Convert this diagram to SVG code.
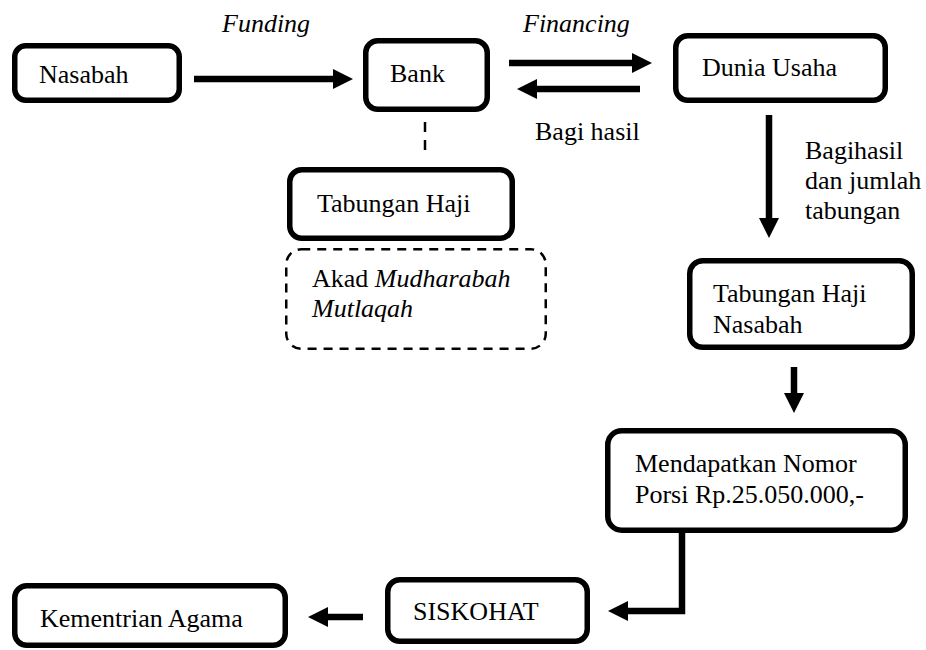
<svg xmlns="http://www.w3.org/2000/svg" width="926" height="650" viewBox="0 0 926 650">
<style>
  .box { fill: #fff; stroke: #000; stroke-width: 5.5; }
  .dbox { fill: #fff; stroke: #000; stroke-width: 2.5; stroke-dasharray: 9 7; }
  .t { font-family: 'Liberation Serif', 'DejaVu Serif', serif; font-size: 26px; fill: #000; }
  .i { font-style: italic; }
  .c { fill: none; stroke: #000; stroke-width: 6.5; }
  .dash { fill: none; stroke: #000; stroke-width: 2.5; stroke-dasharray: 10 8; }
</style>
<defs>
  <marker id="ah" viewBox="0 -10 20 20" refX="0" refY="0" markerWidth="20" markerHeight="20" markerUnits="userSpaceOnUse" orient="auto">
    <path d="M0,-10 L20,0 L0,10 z" fill="#000"/>
  </marker>
</defs>
<rect width="926" height="650" fill="#fff"/>

<g id="connectors" font-family="Liberation Serif, serif">
  <line class="c" x1="194" y1="79" x2="333" y2="79" marker-end="url(#ah)"/>
  <line class="c" x1="509" y1="63" x2="632" y2="63" marker-end="url(#ah)"/>
  <line class="c" x1="640" y1="89" x2="537" y2="89" marker-end="url(#ah)"/>
  <line class="c" x1="769" y1="115" x2="769" y2="218" marker-end="url(#ah)"/>
  <line class="c" x1="794" y1="367" x2="794" y2="393" marker-end="url(#ah)"/>
  <path class="c" d="M682,531 V611 H628" marker-end="url(#ah)"/>
  <line class="c" x1="363" y1="617" x2="328" y2="617" marker-end="url(#ah)"/>
  <line class="dash" x1="425" y1="122" x2="425" y2="152"/>
  <text class="t i" x="222" y="32">Funding</text>
  <text class="t i" x="523" y="32">Financing</text>
  <text class="t" x="535" y="140">Bagi hasil</text>
  <text class="t" x="805" y="159">Bagihasil</text>
  <text class="t" x="805" y="189">dan jumlah</text>
  <text class="t" x="805" y="219">tabungan</text>
</g>

<g id="nasabah">
  <rect class="box" x="14.75" y="45.75" width="164.5" height="54.5" rx="11"/>
  <text class="t" x="39" y="83">Nasabah</text>
</g>
<g id="bank">
  <rect class="box" x="365.75" y="40.75" width="121.5" height="68.5" rx="12"/>
  <text class="t" x="390" y="82">Bank</text>
</g>
<g id="dunia-usaha">
  <rect class="box" x="675.75" y="35.75" width="209.5" height="64.5" rx="12"/>
  <text class="t" x="702" y="76">Dunia Usaha</text>
</g>
<g id="tabungan-haji">
  <rect class="box" x="289.75" y="169.75" width="222.5" height="68.5" rx="12"/>
  <text class="t" x="317" y="212">Tabungan Haji</text>
</g>
<g id="akad">
  <rect class="dbox" x="286.25" y="249.25" width="259.5" height="99.5" rx="15"/>
  <text class="t" x="312" y="287">Akad <tspan class="i">Mudharabah</tspan></text>
  <text class="t i" x="312" y="317">Mutlaqah</text>
</g>
<g id="tabungan-haji-nasabah">
  <rect class="box" x="689.75" y="260.75" width="222.5" height="86.5" rx="13"/>
  <text class="t" x="713" y="302">Tabungan Haji</text>
  <text class="t" x="713" y="333">Nasabah</text>
</g>
<g id="mendapatkan">
  <rect class="box" x="607.75" y="430.75" width="297.5" height="99.5" rx="14"/>
  <text class="t" x="635" y="472">Mendapatkan Nomor</text>
  <text class="t" x="635" y="503">Porsi Rp.25.050.000,-</text>
</g>
<g id="siskohat">
  <rect class="box" x="387.75" y="579.75" width="199.5" height="61.5" rx="12"/>
  <text class="t" x="413" y="620">SISKOHAT</text>
</g>
<g id="kementrian">
  <rect class="box" x="14.75" y="585.75" width="270.5" height="59.5" rx="12"/>
  <text class="t" x="40" y="627">Kementrian Agama</text>
</g>
</svg>
